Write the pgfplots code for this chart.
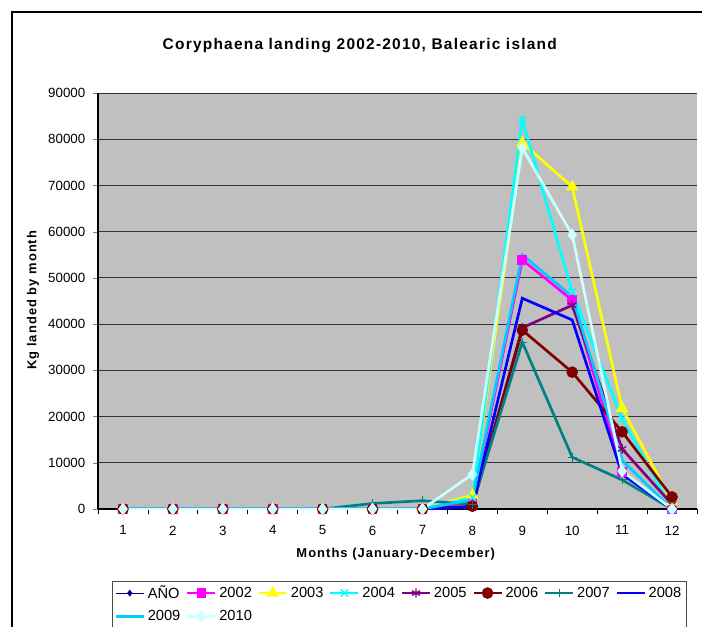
\documentclass[border=0pt]{standalone}
\usepackage{fontspec}
\setmainfont{Liberation Sans}
\usepackage{pgfplots}
\pgfplotsset{compat=1.18}
\definecolor{plotgray}{RGB}{192,192,192}
\definecolor{cAno}{RGB}{0,0,128}
\definecolor{c2002}{RGB}{255,0,255}
\definecolor{c2003}{RGB}{255,255,0}
\definecolor{c2004}{RGB}{0,255,255}
\definecolor{c2005}{RGB}{128,0,128}
\definecolor{c2006}{RGB}{128,0,0}
\definecolor{c2007}{RGB}{0,128,128}
\definecolor{c2008}{RGB}{0,0,255}
\definecolor{c2009}{RGB}{0,204,255}
\definecolor{c2010}{RGB}{204,255,255}
\pgfplotstableread{
m  y2002  y2003  y2004  y2005  y2006  y2007  y2008  y2009  y2010
1  0      0      0      0      0      0      0      0      0
2  0      0      0      0      0      0      0      0      0
3  0      0      0      0      0      0      0      0      0
4  0      0      0      0      0      0      0      0      0
5  0      0      0      0      0      0      0      0      0
6  0      0      0      0      0      1200   0      0      0
7  0      0      0      0      0      1800   0      0      0
8  1500   3000   2500   500    600    1000   500    2000   7500
9  53900  79200  84200  39200  38700  36100  45600  55000  78100
10 45200  69700  47000  44100  29600  11200  40900  46000  59300
11 8000   21800  19500  13000  16700  6300   7500   10500  8200
12 0      1500   0      1000   2600   0      0      0      0
}\datatable
\begin{document}
\begin{tikzpicture}[x=0.75pt,y=0.75pt]
\path[use as bounding box] (0,0) rectangle (702,626);
\begin{scope}
\clip (0,0) rectangle (702,626);
\draw[line width=1.2pt] (12,614) rectangle (760,-40);
\begin{axis}[
  at={(73.5pt,87.75pt)}, anchor=south west,
  scale only axis, width=449.25pt, height=312pt,
  axis background/.style={fill=plotgray},
  axis lines*=left,
  axis line style={black, line width=0.8pt},
  xmin=0.5, xmax=12.5, ymin=0, ymax=90000,
  xtick={1,...,12},
  minor xtick={0.5,1.5,...,12.5},
  major x tick style={draw=none},
  minor x tick style={black, line width=0.6pt},
  minor tick length=4pt,
  ytick={0,10000,...,90000},
  major tick length=4pt,
  tick align=outside,
  ymajorgrids,
  major grid style={black!80, line width=0.7pt},
  scaled y ticks=false,
  /pgf/number format/.cd, fixed, set thousands separator={}, assume math mode=true,
  /pgfplots/.cd,
  tick label style={font=\fontsize{10}{12}\selectfont},
  yticklabel style={xshift=-2pt},
  xticklabel style={yshift=-5pt},
  title={\fontsize{11.6}{13}\selectfont\bfseries\addfontfeature{LetterSpace=8}Coryphaena landing 2002-2010, Balearic island},
  title style={at={(axis description cs:0.437,1.094)}, anchor=center},
  xlabel={\fontsize{9.7}{12}\selectfont\bfseries\addfontfeature{LetterSpace=8}Months (January-December)},
  xlabel style={at={(axis description cs:0.497,-0.108)}, anchor=center},
  ylabel={\fontsize{9.7}{12}\selectfont\bfseries\addfontfeature{LetterSpace=8}Kg landed by month},
  ylabel style={at={(axis description cs:-0.1085,0.502)}, anchor=center, rotate=0},
  legend style={at={(axis description cs:0.0234,-0.172)}, anchor=north west,
    draw=black!70, line width=0.6pt, fill=white,
    font=\fontsize{11}{13}\selectfont, inner sep=1.5pt, row sep=3.2pt,
    /tikz/every even column/.append style={column sep=2.2pt}},
  legend columns=8,
  legend cell align=left,
  legend image code/.code={\draw[mark repeat=2,mark phase=2,#1] plot coordinates {(0pt,0pt)(10.5pt,0pt)(21pt,0pt)};},
  every axis plot/.append style={line width=2pt},
]
\addlegendimage{cAno, line width=0.8pt, mark=diamond*, mark size=2pt}
\addlegendentry{AÑO}
\addplot[c2002, mark=square*, mark size=2.6pt] table[x=m,y=y2002]{\datatable};
\addlegendentry{2002}
\addplot[c2003, mark=triangle*, mark size=3.4pt] table[x=m,y=y2003]{\datatable};
\addlegendentry{2003}
\addplot[c2004, mark=x, mark size=3.8pt, mark options={line width=1pt}] table[x=m,y=y2004]{\datatable};
\addlegendentry{2004}
\addplot[c2005, mark=asterisk, mark size=3.5pt, mark options={line width=1pt}] table[x=m,y=y2005]{\datatable};
\addlegendentry{2005}
\addplot[c2006, mark=*, mark size=3.3pt] table[x=m,y=y2006]{\datatable};
\addlegendentry{2006}
\addplot[c2007, mark=+, mark size=3.3pt, mark options={line width=0.8pt}] table[x=m,y=y2007]{\datatable};
\addlegendentry{2007}
\addplot[c2008] table[x=m,y=y2008]{\datatable};
\addlegendentry{2008}
\addplot[c2009] table[x=m,y=y2009]{\datatable};
\addlegendentry{2009}
\addplot[c2010, mark=diamond*, mark size=3.2pt] table[x=m,y=y2010]{\datatable};
\addlegendentry{2010}
\end{axis}
\end{scope}
\end{tikzpicture}
\end{document}
